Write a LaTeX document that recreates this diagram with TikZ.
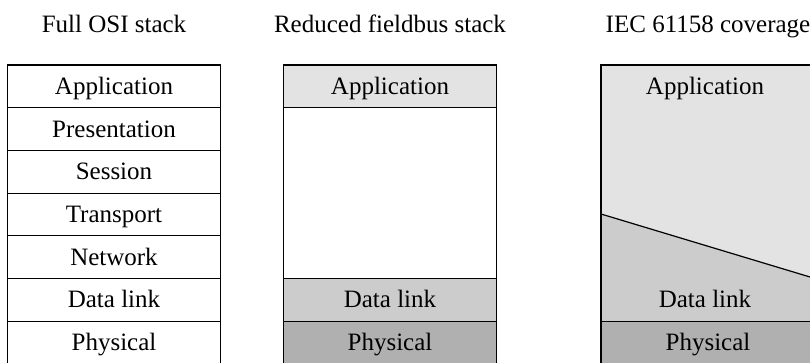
\documentclass[tikz,border=0pt]{standalone}
\usepackage{tikz}
\usepackage{xcolor}
\usepackage{fontspec}
\setmainfont{Liberation Serif}
\usetikzlibrary{positioning}

\definecolor{lightfill}{gray}{0.89}
\definecolor{midfill}{gray}{0.80}
\definecolor{darkfill}{gray}{0.69}

\tikzset{
  txt/.style={font=\fontsize{25}{29}\selectfont,inner sep=0pt,text height=17pt,text depth=1pt},
  layer/.style={txt,draw,line width=1.2pt,minimum width=213pt,minimum height=42.7pt},
  edge/.style={line width=1.2pt}
}

\begin{document}
\begin{tikzpicture}[x=1pt,y=-1pt]
\useasboundingbox (0,0) rectangle (810,362);
\clip (0,0) rectangle (810,362);
% headings
\node[txt] (head1) at (114,24) {Full OSI stack};
\node[txt] (head2) at (390,24) {Reduced fieldbus stack};
\node[txt] (head3) at (708,24) {IEC 61158 coverage};
% full OSI stack
\foreach \lname [count=\i] in {Application,Presentation,Session,Transport,Network,Data link,Physical}
  \node[layer] (osi\i) at (114,{65+42.7*(\i-0.5)}) {\lname};
% reduced fieldbus stack
\node[layer,fill=lightfill] (fb1) at (390,86.35) {Application};
\node[layer,minimum height=170.8pt] (fbgap) at (390,193.1) {};
\node[layer,fill=midfill] (fb6) at (390,299.85) {Data link};
\node[layer,fill=darkfill] (fb7) at (390,342.55) {Physical};
% IEC 61158 coverage
\coordinate (iecA) at (601,214);
\coordinate (iecB) at (815,278.5);
\fill[lightfill] (601,65) rectangle (815,321);
\fill[midfill] (iecA) -- (iecB) -- (815,321) -- (601,321) -- cycle;
\node[layer,fill=darkfill] (iec7) at (708,342.55) {Physical};
\draw[edge] (iecA) -- (iecB);
\draw[edge] (601,65) rectangle (815,364);
\node[txt] (iec1) at (705,86.35) {Application};
\node[txt] (iec6) at (705,299.85) {Data link};
\end{tikzpicture}
\end{document}
